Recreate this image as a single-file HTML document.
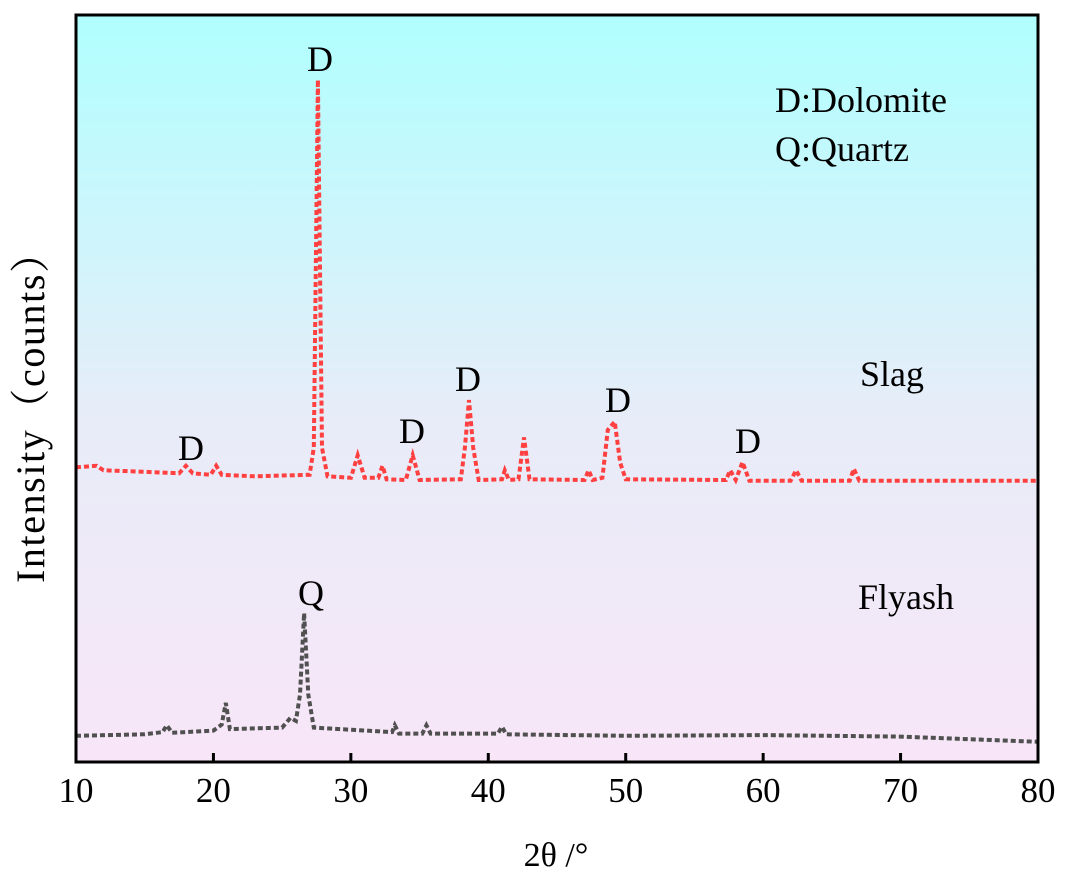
<!DOCTYPE html>
<html><head><meta charset="utf-8">
<style>
body{margin:0;background:#fff;}
svg text{font-family:"Liberation Serif",serif;fill:#000;}
</style></head>
<body>
<svg id="chart" width="1066" height="878" xmlns="http://www.w3.org/2000/svg">
<defs>
<linearGradient id="bg" x1="0" y1="0" x2="0" y2="1">
<stop offset="0" stop-color="#b0ffff"/>
<stop offset="0.55" stop-color="#e8ecf8"/>
<stop offset="1" stop-color="#f8e6f8"/>
</linearGradient>
</defs>
<rect x="76" y="15" width="962" height="747" fill="url(#bg)"/>
<g id="series"></g>
<rect x="76" y="15" width="962" height="747" fill="none" stroke="#000" stroke-width="3"/>
<g id="xticks"></g>
<text x="320" y="71" font-size="36" text-anchor="middle">D</text>
<text x="191" y="460" font-size="36" text-anchor="middle">D</text>
<text x="412" y="443" font-size="36" text-anchor="middle">D</text>
<text x="468" y="391" font-size="36" text-anchor="middle">D</text>
<text x="618" y="412" font-size="36" text-anchor="middle">D</text>
<text x="748" y="453" font-size="36" text-anchor="middle">D</text>
<text x="311" y="605" font-size="36" text-anchor="middle">Q</text>
<text x="775" y="112" font-size="36">D:Dolomite</text>
<text x="775" y="161" font-size="36">Q:Quartz</text>
<text x="860" y="386" font-size="36">Slag</text>
<text x="858" y="609" font-size="36">Flyash</text>
<text x="556" y="866" font-size="34" text-anchor="middle">2θ /°</text>
<text transform="translate(44,408) rotate(-90)" font-size="40" text-anchor="middle" textLength="350" lengthAdjust="spacing" style='font-family:"Liberation Serif","Noto Serif CJK SC",serif'>Intensity（counts）</text>
</svg>
<script>
const xTicks=[10,20,30,40,50,60,70,80];
const slagX=[10,11.5,12,15,17.5,18,18.5,19.8,20.2,20.6,23,27,27.3,27.6,27.9,28.3,30,30.5,31,32,32.3,32.6,34,34.5,35,38,38.3,38.6,38.9,39.3,41,41.2,41.5,42.2,42.6,43,47,47.3,47.6,48.3,48.7,49.2,49.6,50,57.3,57.6,58,58.5,59,62,62.4,62.8,66.3,66.6,67,80];
const slagY=[394,396,390,388,386,396,386,384,396,384,382,384,420,912,420,382,380,410,380,380,396,378,377,410,377,378,420,484,420,377,378,390,377,378,434,378,377,390,377,380,444,455,400,378,377,390,377,401,376,376,390,376,376,392,376,376];
const flyX=[10,15,16.3,16.6,17,20,20.6,20.9,21.2,25,25.6,26,26.3,26.6,26.9,27.3,33,33.2,33.5,35.2,35.5,35.8,40.7,41,41.3,50,60,70,80];
const flyY=[35,37,40,49,39,42,50,79,44,46,59,55,90,199,90,46,40,49,38,38,49,38,38,47,37,35,36,34,27];
const X=v=>76+(v-10)*962/70;
const Y=v=>762-v*0.748;
const NS="http://www.w3.org/2000/svg";
const g=document.getElementById('series');
function draw(xs,ys,color,name){
  const p=document.createElementNS(NS,'polyline');
  
  
  p.setAttribute('points',xs.map((x,i)=>X(x).toFixed(1)+','+Y(ys[i]).toFixed(1)).join(' '));
  p.setAttribute('fill','none');p.setAttribute('stroke',color);
  p.setAttribute('stroke-width','4');p.setAttribute('stroke-dasharray','5,3');
  g.appendChild(p);
}
draw(slagX,slagY,'#ff4040','slag-line');
draw(flyX,flyY,'#505050','flyash-line');
const t=document.getElementById('xticks');
xTicks.forEach(v=>{
  const l=document.createElementNS(NS,'line');
  
  
  l.setAttribute('x1',X(v));l.setAttribute('x2',X(v));l.setAttribute('y1',762);l.setAttribute('y2',753);
  l.setAttribute('stroke','#000');l.setAttribute('stroke-width','3');
  t.appendChild(l);
  const s=document.createElementNS(NS,'text');
  
  
  s.setAttribute('x',X(v));s.setAttribute('y',802);s.setAttribute('font-size','35');s.setAttribute('text-anchor','middle');
  s.textContent=v;t.appendChild(s);
});
</script>
</body></html>
